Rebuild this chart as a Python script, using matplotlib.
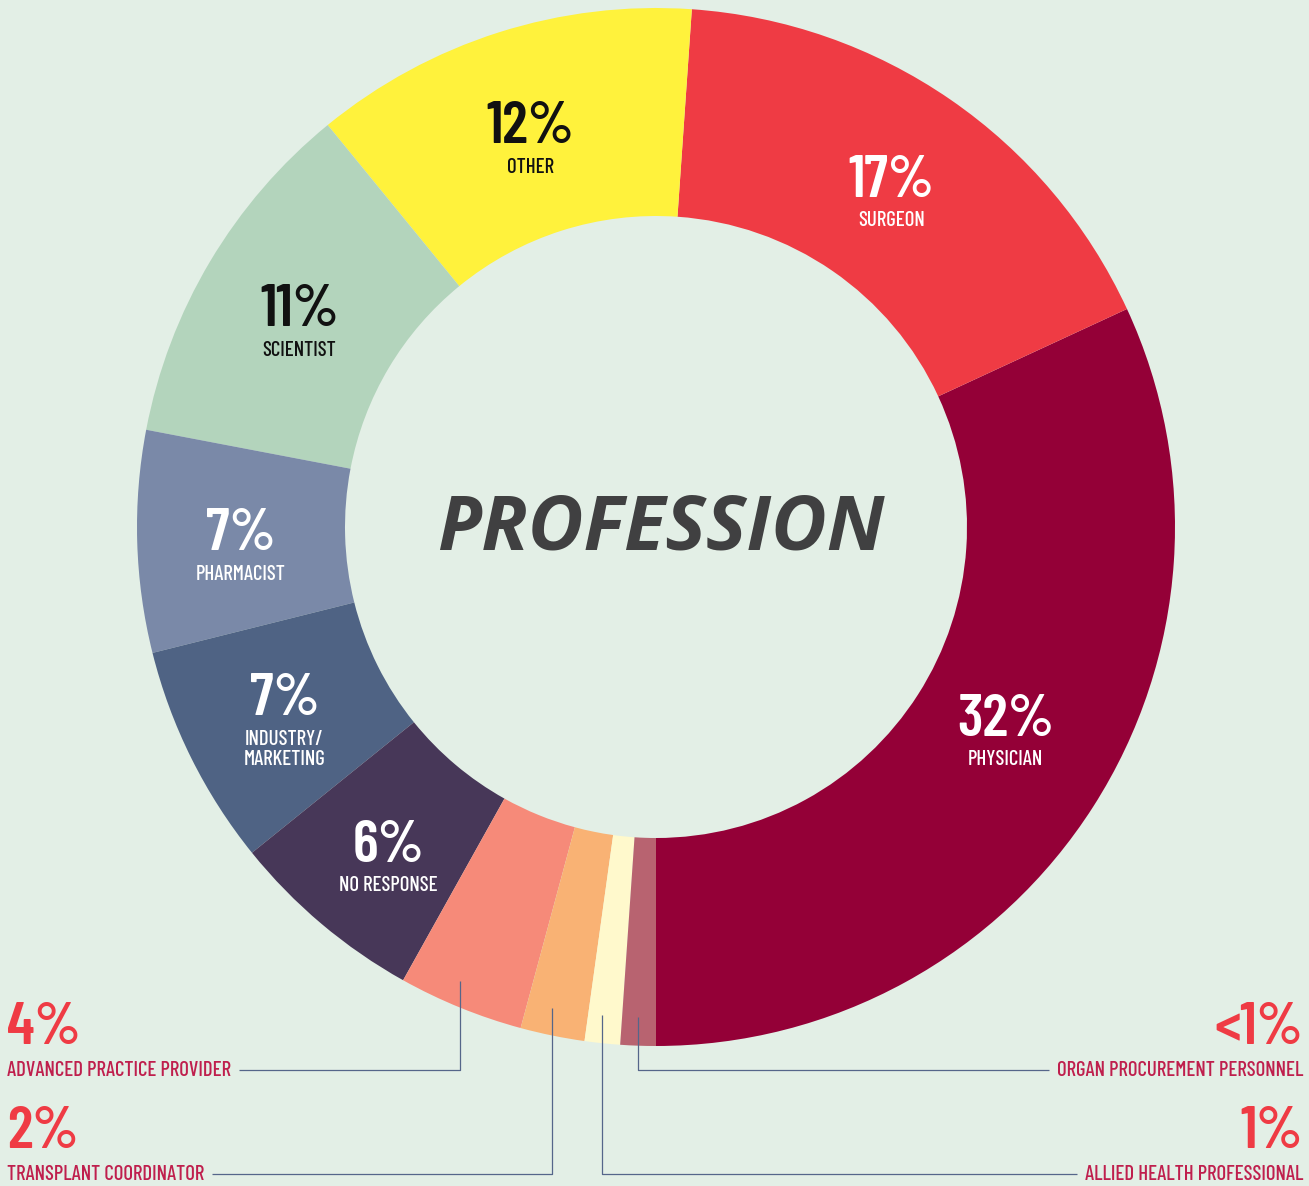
import numpy as np
import matplotlib.pyplot as plt
from matplotlib import font_manager

# share of respondents by profession (%)
professions = ["PHYSICIAN", "SURGEON", "OTHER", "SCIENTIST", "PHARMACIST",
               "INDUSTRY/\nMARKETING", "NO RESPONSE",
               "ADVANCED PRACTICE PROVIDER", "TRANSPLANT COORDINATOR",
               "ALLIED HEALTH PROFESSIONAL", "ORGAN PROCUREMENT PERSONNEL"]
shares = [31.9, 17.0, 12.0, 11.1, 6.9, 6.9, 6.1, 3.9, 2.0, 1.1, 1.1]
pct_labels = ["32%", "17%", "12%", "11%", "7%", "7%", "6%",
              "4%", "2%", "1%", "<1%"]
colors = ["#940037", "#EF3B44", "#FFF23C", "#B3D4BC", "#7A89A8",
          "#4F6384", "#473758", "#F68A79", "#F9B274", "#FFF9CC", "#B86370"]
text_colors = ["white", "white", "#111111", "#111111", "white", "white", "white"]

W, H = 1309, 1186
BG = "#E3EFE6"

# the original uses a tall condensed display face
available = {f.name for f in font_manager.fontManager.ttflist}
for cand in ["Barlow Condensed", "Asap Condensed", "Cabin Condensed"]:
    if cand in available:
        NARROW = [cand, "DejaVu Sans"]
        break
else:
    NARROW = ["Roboto", "DejaVu Sans"]
PCT_SIZE = 43
NAME_SIZE = 15
OUT_NAME_SIZE = 15

fig = plt.figure(figsize=(W / 100, H / 100), dpi=100, facecolor=BG)
ax = fig.add_axes([0, 0, 1, 1])
ax.set_facecolor(BG)

cx, cy = 656, H - 527
R, r_in = 519, 311
wedges, _ = ax.pie(shares, colors=colors, startangle=-90, counterclock=True,
                   radius=R, center=(cx, cy),
                   wedgeprops=dict(width=R - r_in, linewidth=0))
ax.set_xlim(0, W)
ax.set_ylim(0, H)
ax.set_aspect("equal")
ax.axis("off")

# labels inside the ring (a few sit a little off the slice middle)
n_inner = 7
rm = (R + r_in) / 2
nudge_y = {0: 26, 5: 8, 6: -6}
for i in range(n_inner):
    w = wedges[i]
    mid = np.radians((w.theta1 + w.theta2) / 2)
    x = cx + rm * np.cos(mid)
    y = cy + rm * np.sin(mid) + nudge_y.get(i, 0)
    ax.text(x, y + 4, pct_labels[i], ha="center", va="center", family=NARROW,
            fontweight="semibold", fontsize=PCT_SIZE, color=text_colors[i])
    ax.text(x, y - 26, professions[i], ha="center", va="top", family=NARROW,
            fontweight="medium", fontsize=NAME_SIZE, color=text_colors[i],
            linespacing=1.1)

# small slices get labels outside with leader lines
sides = ["left", "left", "right", "right"]
rows = [0, 1, 1, 0]
name_y = [H - 1070, H - 1174]
line_col = "#55668A"

fig.canvas.draw()
renderer = fig.canvas.get_renderer()
for k, i in enumerate(range(n_inner, len(shares))):
    w = wedges[i]
    mid = np.radians((w.theta1 + w.theta2) / 2)
    ny = name_y[rows[k]]
    if sides[k] == "left":
        tx, ha = 7, "left"
    else:
        tx, ha = W - 6, "right"
    ax.text(tx, ny + 42, pct_labels[i], ha=ha, va="center", family=NARROW,
            fontweight="semibold", fontsize=PCT_SIZE, color="#EF3B44")
    t = ax.text(tx, ny, professions[i], ha=ha, va="center", family=NARROW,
                fontweight="medium", fontsize=OUT_NAME_SIZE, color="#BF1F4D")
    bb = t.get_window_extent(renderer).transformed(ax.transData.inverted())
    lx = cx + R * np.cos(mid)
    ly = cy + 0.945 * R * np.sin(mid)
    end_x = bb.x1 + 8 if sides[k] == "left" else bb.x0 - 8
    ax.plot([lx, lx, end_x], [ly, ny, ny], color=line_col, lw=0.9,
            solid_capstyle="butt")

ax.text(cx + 5, cy - 3, "PROFESSION", ha="center", va="center",
        family="Open Sans", fontweight="bold", fontstyle="italic",
        fontsize=55, color="#404041")

fig.savefig("out.png", dpi=100, facecolor=BG)
